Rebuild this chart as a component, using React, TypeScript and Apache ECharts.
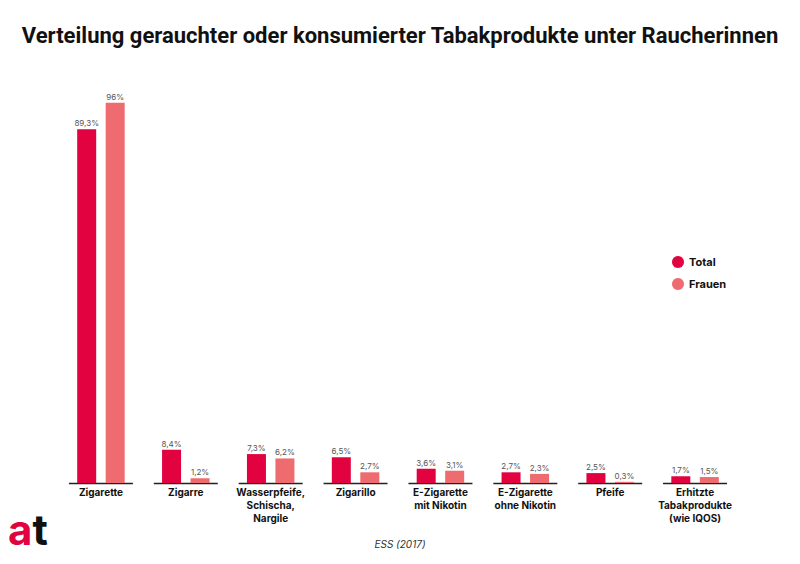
import React, { useEffect, useRef } from "react";
import * as echarts from "echarts";

const categories = [
  "Zigarette",
  "Zigarre",
  "Wasserpfeife,\nSchischa,\nNargile",
  "Zigarillo",
  "E-Zigarette\nmit Nikotin",
  "E-Zigarette\nohne Nikotin",
  "Pfeife",
  "Erhitzte\nTabakprodukte\n(wie IQOS)",
];
const totalValues = [89.3, 8.4, 7.3, 6.5, 3.6, 2.7, 2.5, 1.7];
const frauenValues = [96, 1.2, 6.2, 2.7, 3.1, 2.3, 0.3, 1.5];
const seriesNames = ["Total", "Frauen"];

const fmt = (v: number) => String(v).replace(".", ",") + "%";

export default function App() {
  const ref = useRef<HTMLDivElement>(null);
  useEffect(() => {
    const chart = echarts.init(ref.current!, null, { renderer: "svg" });
    const font = "Inter, 'Liberation Sans', sans-serif";
    const labelCfg = {
      show: true,
      position: "top" as const,
      distance: 2,
      fontSize: 8,
      color: "#555",
      fontFamily: font,
      formatter: (p: any) => fmt(p.value),
    };
    chart.setOption({
      animation: false,
      title: {
        text: "Verteilung gerauchter oder konsumierter Tabakprodukte unter Raucherinnen",
        left: "center",
        top: 19,
        textStyle: { fontSize: 22, fontWeight: 700, color: "#111", fontFamily: "Roboto, sans-serif" },
      },
      legend: {
        orient: "vertical",
        left: 667,
        top: 251,
        itemWidth: 12,
        itemHeight: 12,
        itemGap: 10,
        icon: "circle",
        data: seriesNames,
        textStyle: { fontSize: 11, fontWeight: 700, color: "#111", fontFamily: font },
      },
      grid: { left: 58.5, right: 62.5, top: 87, bottom: 81, containLabel: false },
      xAxis: {
        type: "category",
        data: categories,
        axisLine: { show: false },
        axisTick: { show: false },
        axisLabel: {
          interval: 0,
          margin: 2,
          fontSize: 10,
          fontWeight: 700,
          lineHeight: 13,
          color: "#111",
          fontFamily: font,
        },
      },
      yAxis: { type: "value", min: 0, max: 100, show: false, splitLine: { show: false } },
      series: [
        {
          name: seriesNames[0],
          type: "bar",
          data: totalValues,
          barWidth: 19,
          barGap: "50%",
          itemStyle: { color: "#e2023f" },
          label: labelCfg,
        },
        {
          name: seriesNames[1],
          type: "bar",
          data: frauenValues,
          barWidth: 19,
          itemStyle: { color: "#ee6b6f" },
          label: labelCfg,
        },
        {
          type: "custom",
          silent: true,
          data: categories.map((_, i) => [i, 0]),
          renderItem: (params: any, api: any) => {
            const p = api.coord([api.value(0), 0]);
            return {
              type: "line",
              shape: { x1: p[0] - 32, y1: p[1] + 0.5, x2: p[0] + 32, y2: p[1] + 0.5 },
              style: { stroke: "#222", lineWidth: 1.5 },
            };
          },
        },
      ],
      graphic: [
        {
          type: "text",
          left: "center",
          top: 539,
          style: {
            text: "ESS (2017)",
            fontSize: 10,
            fontStyle: "italic",
            fill: "#333",
            fontFamily: font,
          },
        },
        {
          type: "text",
          left: 8,
          top: 508,
          style: {
            text: "{a|a}{t|t}",
            rich: {
              a: { fontSize: 42, fontWeight: 700, fill: "#e2023f", fontFamily: font },
              t: { fontSize: 42, fontWeight: 700, fill: "#111", fontFamily: font },
            },
          },
        },
      ],
    });
    return () => chart.dispose();
  }, []);
  return (
    <div
      ref={ref}
      style={{ position: "absolute", left: 0, top: 0, width: 800, height: 564 }}
    />
  );
}
